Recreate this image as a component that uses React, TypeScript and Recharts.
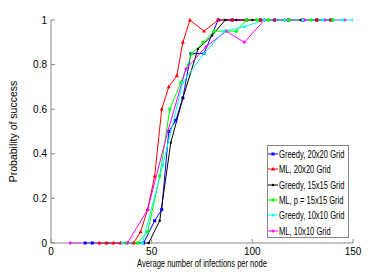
import { LineChart, Line, XAxis, YAxis, Legend } from 'recharts';

// values
const greedy20X = [17, 20.5, 46, 51.5, 55, 58.5, 62, 65.5, 69.5, 76, 83, 90, 97, 104, 111, 118, 125, 132, 139];
const greedy20Y = [0, 0, 0, 0.1, 0.15, 0.5, 0.55, 0.65, 0.85, 0.85, 1, 1, 1, 1, 1, 1, 1, 1, 1];

const ml20X = [24, 27.5, 31, 34.5, 41, 44.5, 48, 51.5, 55, 58.5, 62.5, 65.5, 69, 76, 83, 90, 97, 104, 111, 118, 125, 132, 139];
const ml20Y = [0, 0, 0, 0, 0, 0.05, 0.15, 0.3, 0.6, 0.7, 0.75, 0.9, 1, 0.95, 1, 1, 1, 1, 1, 1, 1, 1, 1];

const greedy15X = [27.5, 48.5, 54, 59.5, 65.5, 73, 80, 86.5, 92, 100, 108, 116, 124, 132, 140];
const greedy15Y = [0, 0, 0.1, 0.45, 0.65, 0.87, 0.93, 1, 1, 1, 1, 1, 1, 1, 1];

const ml15X = [37.5, 43, 48, 54, 59, 64.5, 70, 75.5, 81, 86.5, 92, 97, 102.5, 108, 118, 129, 140];
const ml15Y = [0, 0, 0.05, 0.3, 0.6, 0.72, 0.85, 0.9, 0.95, 0.95, 0.95, 1, 1, 1, 1, 1, 1];

const greedy10X = [35.5, 45.5, 55.5, 65.5, 76, 86, 96, 106, 116, 125, 135, 145, 150];
const greedy10Y = [0, 0, 0.35, 0.72, 0.85, 0.95, 0.97, 1, 1, 1, 1, 1, 1];

const ml10X = [9.5, 38, 48, 58, 67, 77, 87, 96, 106, 116, 126, 136, 146];
const ml10Y = [0, 0, 0.15, 0.5, 0.78, 0.88, 0.95, 0.9, 1, 1, 1, 1, 1];

const xTicks = [0, 50, 100, 150];
const yTicks = [0, 0.2, 0.4, 0.6, 0.8, 1];

const zip = (xs: number[], ys: number[]) => xs.map((x, i) => ({ x, p: ys[i] }));

const series = [
  { name: 'Greedy, 20x20 Grid', color: '#0000ff', shape: 'square', data: zip(greedy20X, greedy20Y) },
  { name: 'ML, 20x20 Grid', color: '#ff0000', shape: 'triangle', data: zip(ml20X, ml20Y) },
  { name: 'Greedy, 15x15 Grid', color: '#000000', shape: 'dot', data: zip(greedy15X, greedy15Y) },
  { name: 'ML, p = 15x15 Grid', color: '#00ff00', shape: 'square', data: zip(ml15X, ml15Y) },
  { name: 'Greedy, 10x10 Grid', color: '#00ffff', shape: 'x', data: zip(greedy10X, greedy10Y) },
  { name: 'ML, 10x10 Grid', color: '#ff00ff', shape: 'plus', data: zip(ml10X, ml10Y) },
];

// draw order (cyan goes over the others along the top)
const drawOrder = [0, 2, 1, 3, 5, 4];

const sans = "'Liberation Sans', Arial, sans-serif";
const squeeze = 0.72; // the reference text is squashed sideways

function markerEl(shape: string, color: string, cx: number, cy: number, key?: any) {
  switch (shape) {
    case 'triangle':
      return <path key={key} d={`M${cx},${cy - 2.2}L${cx + 2},${cy + 1.4}L${cx - 2},${cy + 1.4}Z`} fill={color} />;
    case 'dot':
      return <circle key={key} cx={cx} cy={cy} r={1.2} fill={color} />;
    case 'x':
      return <rect key={key} x={cx - 1.3} y={cy - 1.3} width={2.6} height={2.6} fill={color} />;
    case 'plus':
      return (
        <path key={key} d={`M${cx - 1.8},${cy}H${cx + 1.8}M${cx},${cy - 1.8}V${cy + 1.8}`} stroke={color} strokeWidth={1} />
      );
    default:
      return <rect key={key} x={cx - 1.5} y={cy - 1.5} width={3} height={3} fill={color} />;
  }
}

const makeDot = (shape: string, color: string) => (props: any) => {
  const { cx, cy, index } = props;
  if (cx == null || cy == null) return <g key={index} />;
  return markerEl(shape, color, cx, cy, index);
};

function LegendBox() {
  return (
    <div
      style={{
        width: 82,
        height: 93,
        boxSizing: 'border-box',
        border: '1px solid #888',
        background: '#fff',
        paddingTop: 0.5,
      }}
    >
      {series.map((s) => (
        <div key={s.name} style={{ display: 'flex', alignItems: 'center', height: 15.3 }}>
          <svg width={11} height={8} style={{ flex: 'none' }}>
            <line x1={0} y1={4} x2={10} y2={4} stroke={s.color} strokeWidth={1} />
            {markerEl(s.shape, s.color, 5, 4)}
          </svg>
          <span
            style={{
              display: 'inline-block',
              fontFamily: sans,
              fontSize: 10.5,
              color: '#000',
              whiteSpace: 'nowrap',
              transform: `scaleX(${squeeze})`,
              transformOrigin: 'left center',
            }}
          >
            {s.name}
          </span>
        </div>
      ))}
    </div>
  );
}

const XLabel = (props: any) => {
  const vb = props.viewBox;
  const cx = vb.x + vb.width / 2;
  const cy = vb.y + 24;
  return (
    <text
      transform={`translate(${cx},${cy}) scale(${squeeze},1)`}
      textAnchor="middle"
      fontFamily={sans}
      fontSize={10.5}
      fill="#000"
    >
      Average number of infections per node
    </text>
  );
};

export default function App() {
  return (
    <div style={{ position: 'absolute', left: 0, top: 0, width: 390, height: 274, background: '#fff' }}>
      <LineChart width={390} height={274} margin={{ top: 20, right: 37, bottom: 0, left: 0 }}>
        <XAxis
          xAxisId="b"
          type="number"
          dataKey="x"
          domain={[0, 150]}
          ticks={xTicks}
          height={31}
          stroke="#888"
          tickSize={-4}
          tickMargin={9}
          tick={{ fill: '#000', fontSize: 10, fontFamily: sans }}
          label={XLabel}
          allowDataOverflow
        />
        <XAxis
          xAxisId="t"
          orientation="top"
          type="number"
          domain={[0, 150]}
          ticks={xTicks}
          height={0}
          stroke="#888"
          tickSize={-4}
          tick={false}
        />
        <YAxis
          yAxisId="l"
          type="number"
          domain={[0, 1]}
          ticks={yTicks}
          width={51}
          stroke="#888"
          tickSize={-4}
          tickMargin={8}
          tickFormatter={(v: number) => String(v)}
          tick={{ fill: '#000', fontSize: 10, fontFamily: sans }}
          label={{
            value: 'Probability of success',
            angle: -90,
            position: 'insideLeft',
            offset: 13,
            style: { textAnchor: 'middle', fontFamily: sans, fontSize: 10.5, fill: '#000' },
          }}
        />
        <YAxis
          yAxisId="r"
          orientation="right"
          type="number"
          domain={[0, 1]}
          ticks={yTicks}
          width={0}
          stroke="#888"
          tickSize={-4}
          tick={false}
        />
        {drawOrder.map((i) => {
          const s = series[i];
          return (
            <Line
              key={s.name}
              xAxisId="b"
              yAxisId="l"
              data={s.data}
              dataKey="p"
              name={s.name}
              type="linear"
              stroke={s.color}
              strokeWidth={1}
              dot={makeDot(s.shape, s.color)}
              activeDot={false}
              isAnimationActive={false}
            />
          );
        })}
        <Legend
          layout="vertical"
          align="center"
          verticalAlign="middle"
          wrapperStyle={{ left: 267, top: 145, width: 82 }}
          content={() => <LegendBox />}
        />
      </LineChart>
    </div>
  );
}
